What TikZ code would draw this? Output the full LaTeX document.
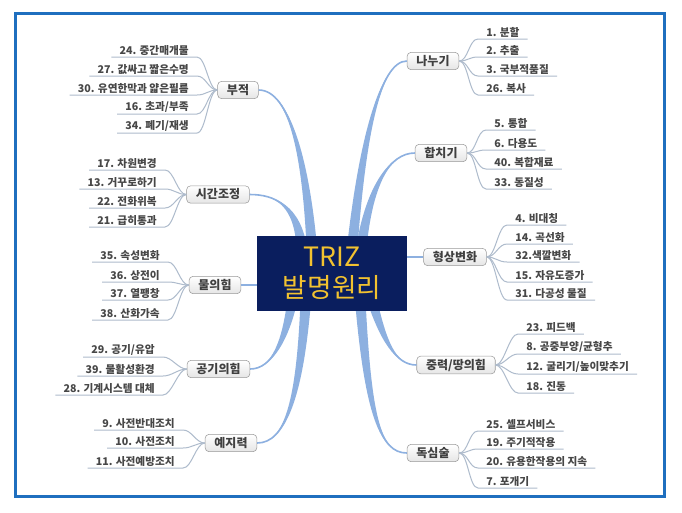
\documentclass[tikz,border=0pt]{standalone}
\usepackage{fontspec}
\setmainfont{Noto Sans CJK KR}
\usepackage{xcolor}
\usepackage{tikz}
\definecolor{corenavy}{HTML}{0A1E5E}
\definecolor{trizgold}{HTML}{F2C230}
\definecolor{branchblue}{HTML}{8DB0E0}
\definecolor{twiggray}{HTML}{AEBBCC}
\definecolor{frameblue}{HTML}{1F6FBF}

\begin{document}
\begin{tikzpicture}[x=0.75pt, y=-0.75pt,
	topic/.style={draw=black!40, rounded corners=3pt, top color=white, bottom color=black!10, font=\fontsize{9}{10}\selectfont\bfseries, text=black!75, inner xsep=7pt, inner ysep=2pt, minimum height=13pt},
	leaf/.style={font=\fontsize{8}{9}\selectfont\bfseries, text=black!72, inner xsep=6pt, inner ysep=1.2pt},
	lleaf/.style={leaf, anchor=south east},
	rleaf/.style={leaf, anchor=south west},
	twig/.style={draw=twiggray, line width=0.75pt},
	branch/.style={fill=branchblue},
	branchline/.style={draw=branchblue, line width=1.2pt},
	core/.style={fill=corenavy, text=trizgold, font=\fontsize{20}{23}\selectfont, minimum width=112.5pt, minimum height=56pt, align=center},
	frame/.style={draw=frameblue, line width=2.25pt}
]
\useasboundingbox (0,0) rectangle (682,512);
\fill[white] (0,0) rectangle (682,512);
\draw[frame] (15,13) rectangle (664,496);

%topics
\node[topic] (buj) at (238,90) {부적};
\node[topic] (sigan) at (218,194.5) {시간조정};
\node[topic] (mul) at (215,285) {물의힘};
\node[topic] (gonggi) at (218.5,369) {공기의힘};
\node[topic] (yeji) at (231,443) {예지력};
\node[topic] (nanu) at (433,61) {나누기};
\node[topic] (hapchi) at (441,153) {합치기};
\node[topic] (hyeong) at (455,257) {형상변화};
\node[topic] (jung) at (456,365) {중력/땅의힘};
\node[topic] (doksim) at (433,453) {독심술};

%left leaves
\node[lleaf] (buj1) at (197,57) {24. 중간매개물};
\node[lleaf] (buj2) at (197,76) {27. 값싸고 짧은수명};
\node[lleaf] (buj3) at (197,95) {30. 유연한막과 얇은필름};
\node[lleaf] (buj4) at (197,114) {16. 초과/부족};
\node[lleaf] (buj5) at (197,133) {34. 폐기/재생};
\node[lleaf] (sigan1) at (165,170) {17. 차원변경};
\node[lleaf] (sigan2) at (165,189) {13. 거꾸로하기};
\node[lleaf] (sigan3) at (165,208) {22. 전화위복};
\node[lleaf] (sigan4) at (165,227) {21. 급히통과};
\node[lleaf] (mul1) at (168,262) {35. 속성변화};
\node[lleaf] (mul2) at (168,282) {36. 상전이};
\node[lleaf] (mul3) at (168,300) {37. 열팽창};
\node[lleaf] (mul4) at (168,320) {38. 산화가속};
\node[lleaf] (gonggi1) at (163,357) {29. 공기/유압};
\node[lleaf] (gonggi2) at (163,376) {39. 물활성환경};
\node[lleaf] (gonggi3) at (163,395) {28. 기계시스템 대체};
\node[lleaf] (yeji1) at (183,430) {9. 사전반대조치};
\node[lleaf] (yeji2) at (183,448) {10. 사전조치};
\node[lleaf] (yeji3) at (183,468) {11. 사전예방조치};

%right leaves
\node[rleaf] (nanu1) at (478,39) {1. 분할};
\node[rleaf] (nanu2) at (478,57) {2. 추출};
\node[rleaf] (nanu3) at (478,76) {3. 국부적품질};
\node[rleaf] (nanu4) at (478,95) {26. 복사};
\node[rleaf] (hapchi1) at (486,130) {5. 통합};
\node[rleaf] (hapchi2) at (486,150) {6. 다용도};
\node[rleaf] (hapchi3) at (486,169) {40. 복합재료};
\node[rleaf] (hapchi4) at (486,189) {33. 동질성};
\node[rleaf] (hyeong1) at (507,225) {4. 비대칭};
\node[rleaf] (hyeong2) at (507,244) {14. 곡선화};
\node[rleaf] (hyeong3) at (507,262) {32.색깔변화};
\node[rleaf] (hyeong4) at (507,282) {15. 자유도증가};
\node[rleaf] (hyeong5) at (507,300) {31. 다공성 물질};
\node[rleaf] (jung1) at (518,334) {23. 피드백};
\node[rleaf] (jung2) at (518,354) {8. 공중부양/균형추};
\node[rleaf] (jung3) at (518,374) {12. 굴리기/높이맞추기};
\node[rleaf] (jung4) at (518,393) {18. 진동};
\node[rleaf] (doksim1) at (478,431) {25. 셀프서비스};
\node[rleaf] (doksim2) at (478,449) {19. 주기적작용};
\node[rleaf] (doksim3) at (478,468) {20. 유용한작용의 지속};
\node[rleaf] (doksim4) at (478,488) {7. 포개기};

%twigs left
\draw[twig] (buj1.south west) -- (buj1.south east) .. controls +(9,0) and +(-9,0) .. (buj.west);
\draw[twig] (buj2.south west) -- (buj2.south east) .. controls +(9,0) and +(-9,0) .. (buj.west);
\draw[twig] (buj3.south west) -- (buj3.south east) .. controls +(9,0) and +(-9,0) .. (buj.west);
\draw[twig] (buj4.south west) -- (buj4.south east) .. controls +(9,0) and +(-9,0) .. (buj.west);
\draw[twig] (buj5.south west) -- (buj5.south east) .. controls +(9,0) and +(-9,0) .. (buj.west);
\draw[twig] (sigan1.south west) -- (sigan1.south east) .. controls +(9,0) and +(-9,0) .. (sigan.west);
\draw[twig] (sigan2.south west) -- (sigan2.south east) .. controls +(9,0) and +(-9,0) .. (sigan.west);
\draw[twig] (sigan3.south west) -- (sigan3.south east) .. controls +(9,0) and +(-9,0) .. (sigan.west);
\draw[twig] (sigan4.south west) -- (sigan4.south east) .. controls +(9,0) and +(-9,0) .. (sigan.west);
\draw[twig] (mul1.south west) -- (mul1.south east) .. controls +(9,0) and +(-9,0) .. (mul.west);
\draw[twig] (mul2.south west) -- (mul2.south east) .. controls +(9,0) and +(-9,0) .. (mul.west);
\draw[twig] (mul3.south west) -- (mul3.south east) .. controls +(9,0) and +(-9,0) .. (mul.west);
\draw[twig] (mul4.south west) -- (mul4.south east) .. controls +(9,0) and +(-9,0) .. (mul.west);
\draw[twig] (gonggi1.south west) -- (gonggi1.south east) .. controls +(9,0) and +(-9,0) .. (gonggi.west);
\draw[twig] (gonggi2.south west) -- (gonggi2.south east) .. controls +(9,0) and +(-9,0) .. (gonggi.west);
\draw[twig] (gonggi3.south west) -- (gonggi3.south east) .. controls +(9,0) and +(-9,0) .. (gonggi.west);
\draw[twig] (yeji1.south west) -- (yeji1.south east) .. controls +(9,0) and +(-9,0) .. (yeji.west);
\draw[twig] (yeji2.south west) -- (yeji2.south east) .. controls +(9,0) and +(-9,0) .. (yeji.west);
\draw[twig] (yeji3.south west) -- (yeji3.south east) .. controls +(9,0) and +(-9,0) .. (yeji.west);

%twigs right
\draw[twig] (nanu.east) .. controls +(9,0) and +(-9,0) .. (nanu1.south west) -- (nanu1.south east);
\draw[twig] (nanu.east) .. controls +(9,0) and +(-9,0) .. (nanu2.south west) -- (nanu2.south east);
\draw[twig] (nanu.east) .. controls +(9,0) and +(-9,0) .. (nanu3.south west) -- (nanu3.south east);
\draw[twig] (nanu.east) .. controls +(9,0) and +(-9,0) .. (nanu4.south west) -- (nanu4.south east);
\draw[twig] (hapchi.east) .. controls +(9,0) and +(-9,0) .. (hapchi1.south west) -- (hapchi1.south east);
\draw[twig] (hapchi.east) .. controls +(9,0) and +(-9,0) .. (hapchi2.south west) -- (hapchi2.south east);
\draw[twig] (hapchi.east) .. controls +(9,0) and +(-9,0) .. (hapchi3.south west) -- (hapchi3.south east);
\draw[twig] (hapchi.east) .. controls +(9,0) and +(-9,0) .. (hapchi4.south west) -- (hapchi4.south east);
\draw[twig] (hyeong.east) .. controls +(9,0) and +(-9,0) .. (hyeong1.south west) -- (hyeong1.south east);
\draw[twig] (hyeong.east) .. controls +(9,0) and +(-9,0) .. (hyeong2.south west) -- (hyeong2.south east);
\draw[twig] (hyeong.east) .. controls +(9,0) and +(-9,0) .. (hyeong3.south west) -- (hyeong3.south east);
\draw[twig] (hyeong.east) .. controls +(9,0) and +(-9,0) .. (hyeong4.south west) -- (hyeong4.south east);
\draw[twig] (hyeong.east) .. controls +(9,0) and +(-9,0) .. (hyeong5.south west) -- (hyeong5.south east);
\draw[twig] (jung.east) .. controls +(9,0) and +(-9,0) .. (jung1.south west) -- (jung1.south east);
\draw[twig] (jung.east) .. controls +(9,0) and +(-9,0) .. (jung2.south west) -- (jung2.south east);
\draw[twig] (jung.east) .. controls +(9,0) and +(-9,0) .. (jung3.south west) -- (jung3.south east);
\draw[twig] (jung.east) .. controls +(9,0) and +(-9,0) .. (jung4.south west) -- (jung4.south east);
\draw[twig] (doksim.east) .. controls +(9,0) and +(-9,0) .. (doksim1.south west) -- (doksim1.south east);
\draw[twig] (doksim.east) .. controls +(9,0) and +(-9,0) .. (doksim2.south west) -- (doksim2.south east);
\draw[twig] (doksim.east) .. controls +(9,0) and +(-9,0) .. (doksim3.south west) -- (doksim3.south east);
\draw[twig] (doksim.east) .. controls +(9,0) and +(-9,0) .. (doksim4.south west) -- (doksim4.south east);

%main branches
\coordinate (s-buj) at (312,250);
\coordinate (s-sigan) at (302,250);
\coordinate (s-nanu) at (352,250);
\coordinate (s-hapchi) at (361,250);
\coordinate (s-gonggi) at (293,297);
\coordinate (s-yeji) at (306,297);
\coordinate (s-jung) at (371,297);
\coordinate (s-doksim) at (360,297);
\fill[branch] ([xshift=-4pt]s-buj) .. controls ([xshift=-2.5pt]306,160) and (290,90) .. (buj.east) .. controls (290,90) and ([xshift=2.5pt]306,160) .. ([xshift=4pt]s-buj) -- cycle;
\draw[branchline] (s-buj) .. controls (306,160) and (290,90) .. (buj.east);
\fill[branch] ([xshift=-4pt]s-sigan) .. controls ([xshift=-2.5pt]298,205) and (275,194.5) .. (sigan.east) .. controls (275,194.5) and ([xshift=2.5pt]298,205) .. ([xshift=4pt]s-sigan) -- cycle;
\draw[branchline] (s-sigan) .. controls (298,205) and (275,194.5) .. (sigan.east);
\fill[branch] ([xshift=-4pt]s-nanu) .. controls ([xshift=-2.5pt]362,140) and (380,61) .. (nanu.west) .. controls (380,61) and ([xshift=2.5pt]362,140) .. ([xshift=4pt]s-nanu) -- cycle;
\draw[branchline] (s-nanu) .. controls (362,140) and (380,61) .. (nanu.west);
\fill[branch] ([xshift=-4pt]s-hapchi) .. controls ([xshift=-2.5pt]369,185) and (390,153) .. (hapchi.west) .. controls (390,153) and ([xshift=2.5pt]369,185) .. ([xshift=4pt]s-hapchi) -- cycle;
\draw[branchline] (s-hapchi) .. controls (369,185) and (390,153) .. (hapchi.west);
\fill[branch] ([xshift=-4pt]s-gonggi) .. controls ([xshift=-2.5pt]286,340) and (272,369) .. (gonggi.east) .. controls (272,369) and ([xshift=2.5pt]286,340) .. ([xshift=4pt]s-gonggi) -- cycle;
\draw[branchline] (s-gonggi) .. controls (286,340) and (272,369) .. (gonggi.east);
\fill[branch] ([xshift=-4pt]s-yeji) .. controls ([xshift=-2.5pt]300,400) and (285,443) .. (yeji.east) .. controls (285,443) and ([xshift=2.5pt]300,400) .. ([xshift=4pt]s-yeji) -- cycle;
\draw[branchline] (s-yeji) .. controls (300,400) and (285,443) .. (yeji.east);
\fill[branch] ([xshift=-4pt]s-jung) .. controls ([xshift=-2.5pt]383,340) and (395,365) .. (jung.west) .. controls (395,365) and ([xshift=2.5pt]383,340) .. ([xshift=4pt]s-jung) -- cycle;
\draw[branchline] (s-jung) .. controls (383,340) and (395,365) .. (jung.west);
\fill[branch] ([xshift=-4pt]s-doksim) .. controls ([xshift=-2.5pt]368,415) and (380,453) .. (doksim.west) .. controls (380,453) and ([xshift=2.5pt]368,415) .. ([xshift=4pt]s-doksim) -- cycle;
\draw[branchline] (s-doksim) .. controls (368,415) and (380,453) .. (doksim.west);

\node[core] (triz) at (332,273.5) {TRIZ\\발명원리};
\draw[branchline] (mul.east) -- (mul.east -| triz.west);
\draw[branchline] (hyeong.west) -- (hyeong.west -| triz.east);
\end{tikzpicture}
\end{document}
